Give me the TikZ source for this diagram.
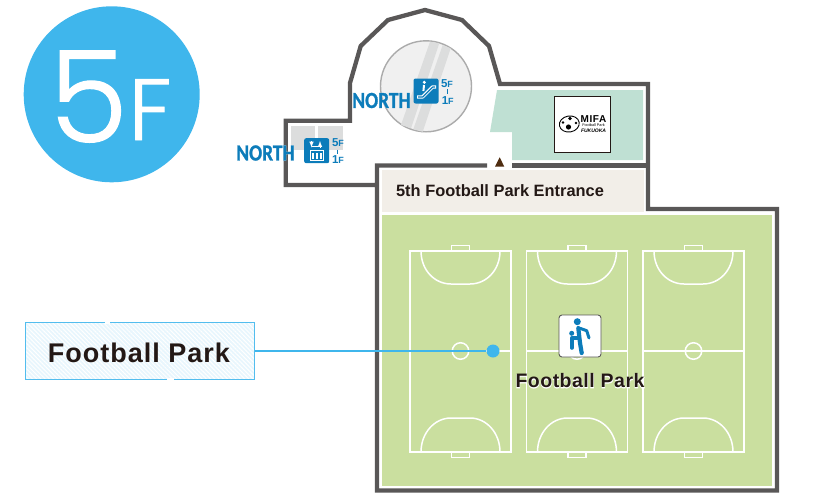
\documentclass[tikz,border=0pt]{standalone}
\usepackage{fontspec}
\setmainfont{Liberation Sans}
\newfontfamily\bigfont{Poppins}[UprightFont=* Light, UprightFeatures={FakeBold=1}]
\newfontfamily\northfont{Carlito}[BoldFont=* Bold, BoldFeatures={FakeBold=1.2}]
\usetikzlibrary{patterns.meta, shapes.geometric, calc}

\definecolor{wallgray}{HTML}{595757}
\definecolor{skyblue}{HTML}{3FB6EC}
\definecolor{iconblue}{HTML}{0C7CBA}
\definecolor{darktext}{HTML}{231815}
\definecolor{pitchgreen}{HTML}{CADF9F}
\definecolor{mintgreen}{HTML}{BFE0D3}
\definecolor{entrancebeige}{HTML}{F2EEE8}
\definecolor{liftgray}{HTML}{DCDDDD}
\newcommand{\halotext}[2]{\rlap{\color{white}\addfontfeature{FakeBold=#1}#2}#2}
\newcommand{\floorword}[1]{#1{\fontsize{9}{9}\selectfont F}}

\begin{document}
\begin{tikzpicture}[x=1pt,y=-1pt]
% Styles
\tikzstyle{wall} = [draw=wallgray, line width=4.3pt, miter limit=10]
\tikzstyle{courtline} = [draw=white, line width=1.5pt]
\tikzstyle{northlabel} = [text=iconblue, inner sep=0pt, font=\northfont\bfseries\fontsize{23}{23}\selectfont, xscale=0.84]
\tikzstyle{floorlabel} = [text=iconblue, inner sep=0pt, font=\bfseries\fontsize{11.5}{11.5}\selectfont]
\tikzstyle{iconbox} = [draw=none, fill=iconblue, rounded corners=2pt, minimum size=25pt, inner sep=0pt]
\tikzstyle{parklabel} = [text=darktext, inner sep=0pt, font=\bfseries]
\useasboundingbox (0,0) rectangle (827,495);

% Floor badge
\node (badge) [circle, fill=skyblue, minimum size=176pt, inner sep=0pt] at (111.7,94.3) {};
\node (fiveword) [text=white, inner sep=0pt, anchor=base, font=\bigfont\fontsize{127}{127}\selectfont] at (88.5,142) {5};
\node (floorword) [text=white, inner sep=0pt, anchor=base, font=\bigfont\fontsize{87}{87}\selectfont] at (150,140) {F};

% Rooms
\fill [mintgreen] (497,90) -- (643,90) -- (643,160) -- (512,160) -- (512,132) -- (490,132) -- cycle;
\node (entrance) [fill=entrancebeige, anchor=north west, minimum width=262pt, minimum height=42pt, inner sep=0pt] at (382,170) {};
\node (pitch) [fill=pitchgreen, anchor=north west, minimum width=390pt, minimum height=271pt, inner sep=0pt] at (382,215) {};
\fill [liftgray] (290.7,126) rectangle (315,150);
\fill [liftgray] (318,126) rectangle (343.3,150);

% Escalator hall
\node (hall) [circle, draw=black!33, fill=black!6, line width=1.4pt, minimum size=91pt, inner sep=0pt] at (426,86.3) {};
\fill [liftgray] (430,41.7) -- (439.3,43.3) -- (411,128.3) -- (401,125) -- cycle;
\fill [liftgray] (442.7,45) -- (450.7,48.3) -- (422.7,131.7) -- (413.3,129.3) -- cycle;

% Walls
\draw [wall] (375.5,185) -- (285.7,185) -- (285.7,120.7) -- (350,120.7) -- (350,83) -- (360.7,46) -- (388,20) -- (425,10) -- (462,20) -- (489,46) -- (500,84) -- (648,84) -- (648,209) -- (777,209) -- (777,490.5) -- (377,490.5) -- (377,165.5) -- (487,165.5);
\draw [wall] (512,165.5) -- (648,165.5);
\fill [fill=darktext!80!orange] (495,166.7) -- (504.3,166.7) -- (499.7,157.3) -- cycle;

% Courts
\foreach \cx/\cname in {460.5/one, 577/two, 693.5/three} {
  \draw [courtline] (\cx-50.5,251) rectangle (\cx+50.5,452);
  \draw [courtline] (\cx-50.5,351) -- (\cx+50.5,351);
  \node (center\cname) [circle, draw=white, line width=1.5pt, minimum size=16.5pt, inner sep=0pt] at (\cx,351) {};
  \draw [courtline] (\cx-39.5,251) .. controls (\cx-39.5,270) and (\cx-26,284) .. (\cx-9.5,284) -- (\cx+9.5,284) .. controls (\cx+26,284) and (\cx+39.5,270) .. (\cx+39.5,251);
  \draw [courtline] (\cx-39.5,452) .. controls (\cx-39.5,433) and (\cx-26,418) .. (\cx-9.5,418) -- (\cx+9.5,418) .. controls (\cx+26,418) and (\cx+39.5,433) .. (\cx+39.5,452);
  \draw [courtline, line width=1.2pt] (\cx-9,251) -- (\cx-9,245.5) -- (\cx+9,245.5) -- (\cx+9,251);
  \draw [courtline, line width=1.2pt] (\cx-9,452) -- (\cx-9,457.5) -- (\cx+9,457.5) -- (\cx+9,452);
}

% Logo
\node (logo) [draw=darktext, fill=white, line width=0.8pt, minimum size=56pt, inner sep=0pt] at (582.3,124.2) {};
\node (logoball) [ellipse, draw=black, fill=white, line width=0.9pt, minimum width=20pt, minimum height=16pt, inner sep=0pt, rotate=10] at (569.3,124) {};
\fill (568.5,127) circle (2.6pt) (563,122.5) circle (1.4pt) (570,118.5) circle (1.8pt) (576,123) circle (1.4pt);
\node (logomifa) [inner sep=0pt, font=\bfseries\fontsize{10}{10}\selectfont\addfontfeature{LetterSpace=6}] at (593.5,118.9) {MIFA};
\node (logopark) [inner sep=0pt, font=\fontsize{3.8}{3.8}\selectfont] at (593.5,125.5) {Football Park};
\node (logocity) [inner sep=0pt, font=\bfseries\itshape\fontsize{5}{5}\selectfont] at (593.5,130.5) {FUKUOKA};

% Escalator icon
\node (escicon) [iconbox] at (426,91) {};
\draw [white, line width=3.4pt, line join=round] (417,97) -- (422.5,97) -- (432.5,87) -- (436,87);
\draw [iconblue, line width=1.2pt, line join=round] (418,97) -- (422.8,97) -- (432.8,87) -- (435,87);
\fill [white] (424.3,82.3) circle (1.7pt);
\draw [white, line width=2pt] (424,85) -- (423.4,91);
\node (northesc) [northlabel] at (381.5,100.5) {\halotext{5}{NORTH}};
\node (escfive) [floorlabel] at (447,83.5) {\floorword{5}};
\node (escone) [floorlabel] at (447.7,100.5) {\floorword{1}};
\draw [iconblue, line width=1.4pt] (447.7,89) -- (447.7,93.5);

% Elevator icon
\node (lifticon) [iconbox] at (316.7,150.7) {};
\node (liftcar) [draw=white, line width=1pt, minimum width=13pt, minimum height=10.5pt, inner sep=0pt] at (316.7,155.5) {};
\foreach \px in {312.7,316.7,320.7} {
  \draw [white, line width=1.6pt] (\px,153) -- (\px,158.5);
}
\draw [white, line width=1pt, -latex] (311.5,141) -- (311.5,147.5);
\draw [white, line width=1pt, -latex] (320,147.5) -- (320,141);
\draw [white, line width=1pt] (311.5,146.5) -- (320,146.5);
\node (northlift) [northlabel] at (265.5,153) {\halotext{5}{NORTH}};
\node (liftfive) [floorlabel] at (338,143) {\floorword{5}};
\node (liftone) [floorlabel] at (338,160) {\floorword{1}};
\draw [iconblue, line width=1.4pt] (337.3,149.5) -- (337.3,154);

% Football icon
\node (ballicon) [draw=black!65, fill=white, line width=0.9pt, rounded corners=3pt, minimum size=42pt, inner sep=0pt] at (580,336) {};
\fill [iconblue] (577.3,321.7) circle (3.5pt) (571.7,333.3) circle (2.5pt);
\draw [iconblue, line width=4.2pt, line cap=round, line join=round] (578.3,328) -- (580,343) -- (581.7,353);
\draw [iconblue, line width=3pt, line cap=round, line join=round] (580,328.3) -- (586.7,330.7) -- (589,338);
\draw [iconblue, line width=3.6pt, line cap=round, line join=round] (578,338) -- (571.7,338) -- (571.7,348);

% Texts
\node (entranceword) [parklabel, font=\bfseries\fontsize{16.4}{16.4}\selectfont] at (500,190.5) {5th Football Park Entrance};
\node (pitchword) [parklabel, font=\bfseries\fontsize{19.5}{19.5}\selectfont\addfontfeature{LetterSpace=2.5}] at (580,381) {\halotext{4}{Football Park}};

% Callout
\node (callout) [draw=skyblue!90!white, line width=1.7pt, preaction={fill=skyblue!12}, pattern={Lines[angle=-45, distance=3pt, line width=1pt]}, pattern color=white, minimum width=229pt, minimum height=57pt, inner sep=0pt] at (140,351) {};
\fill [white] (105,320) rectangle (110,324);
\fill [white] (167,378) rectangle (174,382);
\node (calloutword) [parklabel, font=\bfseries\fontsize{27}{27}\selectfont\addfontfeature{LetterSpace=3.7}] at (139,353) {Football Park};
\node (calloutdot) [circle, fill=skyblue, minimum size=13pt, inner sep=0pt] at (493,351) {};

% Arrows
\draw [skyblue, line width=1.2pt] (callout) -- (calloutdot);
\end{tikzpicture}
\end{document}
